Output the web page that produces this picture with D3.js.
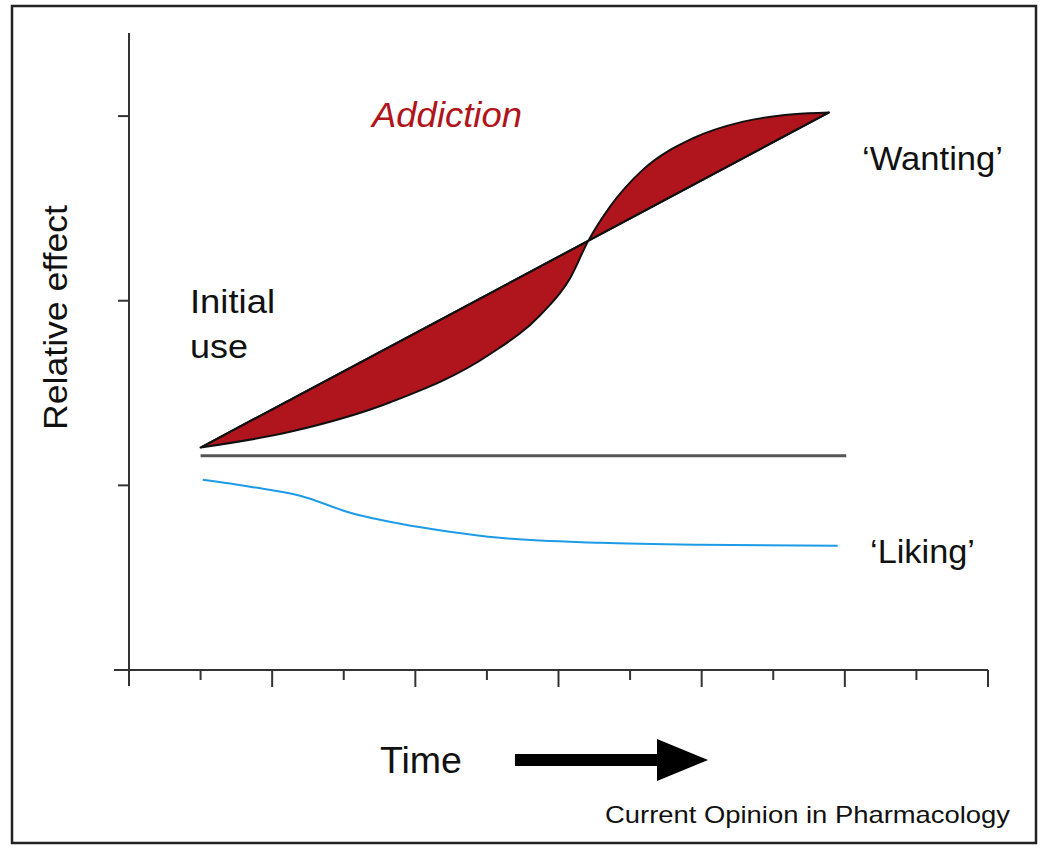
<!DOCTYPE html>
<html>
<head>
<meta charset="utf-8">
<script src="https://cdn.jsdelivr.net/npm/d3@7"></script>
<style>
  body { margin: 0; background: #fff; }
  text { font-family: "Liberation Sans", Arial, sans-serif; }
</style>
</head>
<body>
<svg id="chart" width="1050" height="853"></svg>
<script>
// time ticks along the x axis (0..12), every second one is a major tick
const timeTicks = d3.range(0, 13);
const effectTicks = [1, 2, 3];

// 'Wanting': straight line (initial expectation) and sensitized S-curve
const wantingLine = [[1.0, 1.205], [9.78, 3.02]];
const wantingCurve = [
  [1.0, 1.205], [2.25, 1.29], [3.65, 1.45], [5.04, 1.71], [5.74, 1.92],
  [6.16, 2.12], [6.41, 2.32], [6.72, 2.51], [7.18, 2.71], [7.88, 2.88],
  [8.58, 2.97], [9.28, 3.01], [9.78, 3.02]
];
// baseline
const baseline = [[1.0, 1.16], [10.02, 1.16]];
// 'Liking' declines
const liking = [
  [1.03, 1.03], [1.69, 0.993], [2.39, 0.944], [3.09, 0.852], [3.79, 0.792],
  [4.48, 0.749], [5.18, 0.716], [6.58, 0.689], [7.98, 0.678], [9.9, 0.673]
];

const svg = d3.select("#chart");

// outer frame
svg.append("rect")
  .attr("x", 12).attr("y", 6)
  .attr("width", 1024).attr("height", 837)
  .attr("fill", "none")
  .attr("stroke", "#222")
  .attr("stroke-width", 2.5);

const x = d3.scaleLinear().domain([0, 12]).range([129, 988]);
const y = d3.scaleLinear().domain([0, 3.45]).range([670, 33]);

// y axis
svg.append("line")
  .attr("x1", x(0)).attr("x2", x(0))
  .attr("y1", y(3.45)).attr("y2", 686)
  .attr("stroke", "#333").attr("stroke-width", 2);
svg.selectAll("line.ytick")
  .data(effectTicks)
  .join("line")
  .attr("class", "ytick")
  .attr("x1", x(0) - 11).attr("x2", x(0))
  .attr("y1", d => y(d)).attr("y2", d => y(d))
  .attr("stroke", "#333").attr("stroke-width", 2);

// x axis
svg.append("line")
  .attr("x1", 114).attr("x2", x(12))
  .attr("y1", y(0)).attr("y2", y(0))
  .attr("stroke", "#333").attr("stroke-width", 2);
svg.selectAll("line.xtick")
  .data(timeTicks.slice(1))
  .join("line")
  .attr("class", "xtick")
  .attr("x1", d => x(d)).attr("x2", d => x(d))
  .attr("y1", y(0)).attr("y2", d => y(0) + (d % 2 === 0 ? 17 : 10))
  .attr("stroke", "#333").attr("stroke-width", 2);

const line = d3.line().x(d => x(d[0])).y(d => y(d[1]));
const curveGen = d3.line().x(d => x(d[0])).y(d => y(d[1])).curve(d3.curveMonotoneX);

// filled area between straight line and curve
svg.append("path")
  .attr("d", curveGen(wantingCurve) + "L" + x(wantingLine[0][0]) + "," + y(wantingLine[0][1]) + "Z")
  .attr("fill", "#b0141c")
  .attr("stroke", "#111")
  .attr("stroke-width", 2)
  .attr("stroke-linejoin", "round");
svg.append("path")
  .attr("d", line(wantingLine))
  .attr("fill", "none")
  .attr("stroke", "#111")
  .attr("stroke-width", 2);

// baseline
svg.append("path")
  .attr("d", line(baseline))
  .attr("stroke", "#555")
  .attr("stroke-width", 3);

// liking
svg.append("path")
  .attr("d", curveGen(liking))
  .attr("fill", "none")
  .attr("stroke", "#1e9be6")
  .attr("stroke-width", 2);

// labels
function label(txt, xp, yp, size, len, opts = {}) {
  const t = svg.append("text")
    .attr("x", xp).attr("y", yp)
    .attr("font-size", size)
    .attr("fill", opts.fill || "#111")
    .attr("textLength", len)
    .attr("lengthAdjust", "spacingAndGlyphs")
    .text(txt);
  if (opts.italic) t.attr("font-style", "italic");
  if (opts.transform) t.attr("transform", opts.transform);
  return t;
}
label("Addiction", 372, 127, 35, 150, { italic: true, fill: "#b0141c" });
label("\u2018Wanting\u2019", 862, 170, 34, 141);
label("\u2018Liking\u2019", 870, 563, 34, 105);
label("Initial", 190, 313, 34, 85);
label("use", 190, 358, 34, 58);
label("Relative effect", -430, 67, 34, 225, { transform: "rotate(-90)" });
label("Time", 380, 773, 36, 82);
label("Current Opinion in Pharmacology", 605, 823, 24, 405);

// arrow
svg.append("path")
  .attr("d", "M515,754 L657,754 L657,739 L708,760 L657,781 L657,766 L515,766 Z")
  .attr("fill", "#000");
</script>
</body>
</html>
